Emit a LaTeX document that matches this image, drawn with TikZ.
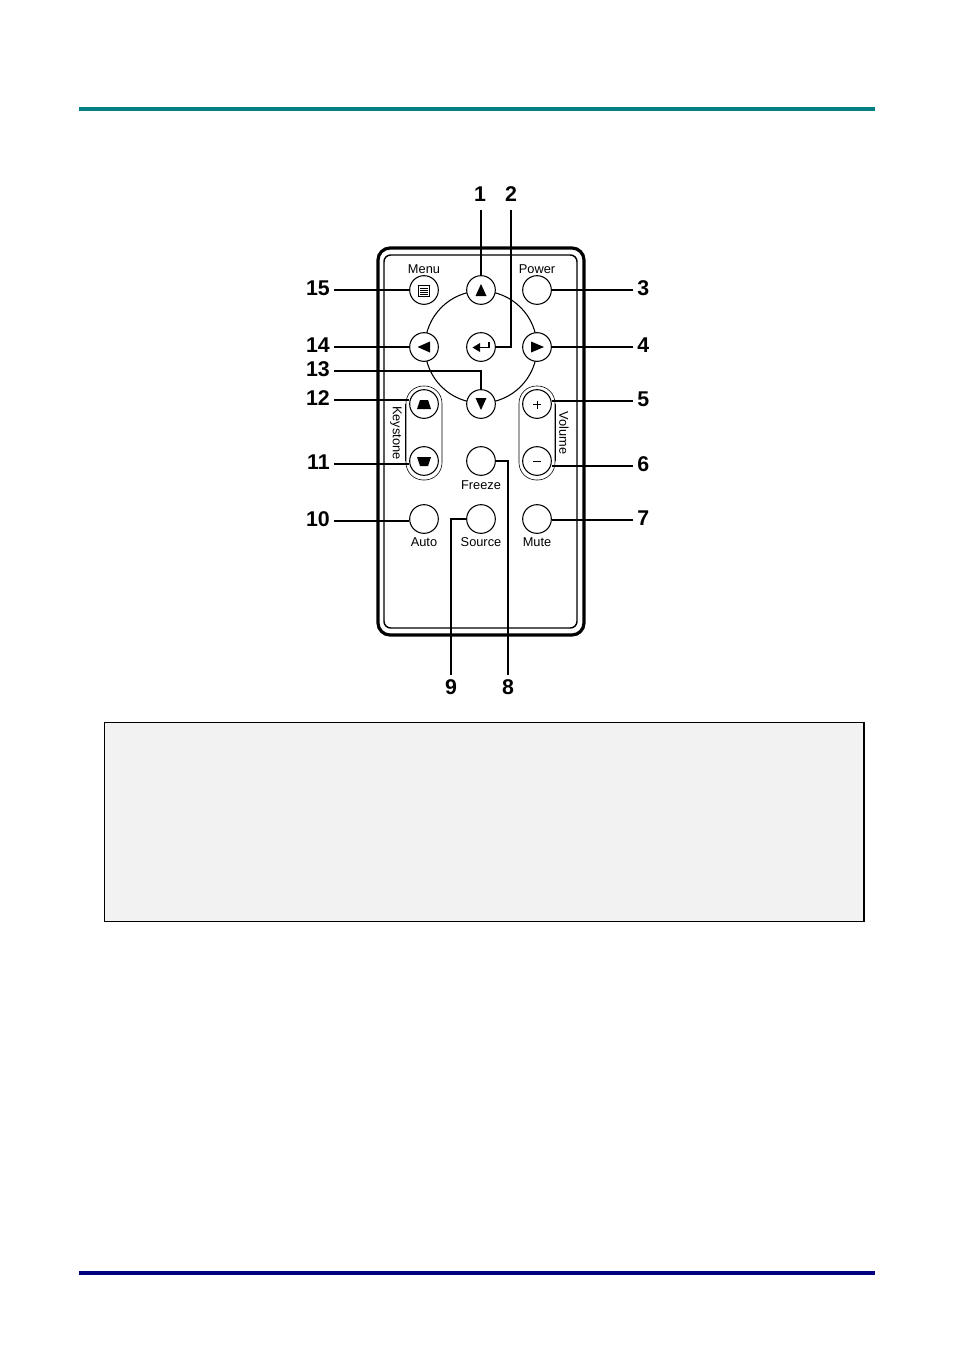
\documentclass[tikz,border=0pt]{standalone}
\usepackage{fontspec}
\setmainfont{Liberation Sans}
\usetikzlibrary{calc}
\tikzset{
    btn/.style={circle,draw,fill=white,line width=0.8pt,minimum size=21.5pt,inner sep=0pt},
    num/.style={font=\bfseries\fontsize{16}{16}\selectfont,inner sep=0pt,text height=11.5pt,text depth=3pt},
    btntext/.style={font=\fontsize{9.6}{9.6}\selectfont,inner sep=0pt},
    leader/.style={line width=1pt,shorten <=3pt},
    pill/.style={draw,line width=0.45pt,rounded corners=13pt}
}
\begin{document}
\begin{tikzpicture}[x=0.75pt,y=-0.75pt]
    \useasboundingbox (0,0) rectangle (954,1350);
    \begin{scope} % Page furniture
        \fill[white] (0,0) rectangle (954,1350);
        \fill[color={rgb,255:red,0;green,128;blue,128}] (79,107) rectangle (875,111);
        \fill[color={rgb,255:red,0;green,0;blue,128}] (79,1271) rectangle (875,1275);
        \draw[fill={rgb,255:red,242;green,242;blue,242},line width=0.6pt] (104.5,722.5) rectangle (864,921.5);
        \draw[line width=1.2pt] (864,722) -- (864,922);
    \end{scope}
    \begin{scope} % Remote body
        \draw[line width=2.4pt,rounded corners=9pt] (378,248) rectangle (584,635);
        \draw[line width=1.1pt,rounded corners=5pt] (384,255) rectangle (577,628);
        \draw[line width=0.8pt] (481,347) circle (56);
    \end{scope}
    \begin{scope} % Pills
        \draw[pill] (406,386) rectangle (442,480);
        \draw[pill] (519,386) rectangle (555,480);
        \draw[line width=0.45pt] (405,404) -- (405,461);
        \draw[line width=0.45pt] (555,404) -- (555,461);
        \node[btntext,rotate=-90] (keystone) at (396,433) {Keystone};
        \node[btntext,rotate=-90] (volume) at (564,433) {Volume};
    \end{scope}
    \begin{scope} % Buttons
        \node[btn] (menu) at (424,290) {};
        \node[btn] (up) at (481,290) {};
        \node[btn] (power) at (537,290) {};
        \node[btn] (left) at (424,347) {};
        \node[btn] (enter) at (481,347) {};
        \node[btn] (right) at (537,347) {};
        \node[btn] (down) at (481,404) {};
        \node[btn] (keyup) at (424,404) {};
        \node[btn] (plus) at (537,404) {};
        \node[btn] (keydown) at (424,461) {};
        \node[btn] (freeze) at (481,461) {};
        \node[btn] (minus) at (537,461) {};
        \node[btn] (auto) at (424,519) {};
        \node[btn] (source) at (481,519) {};
        \node[btn] (mute) at (537,519) {};
    \end{scope}
    \begin{scope} % Button glyphs
        \fill (475.5,296) -- (486.5,296) -- (481,284) -- cycle;
        \fill (475.5,398) -- (486.5,398) -- (481,410) -- cycle;
        \fill (430,341.5) -- (430,352.5) -- (417.5,347) -- cycle;
        \fill (531,341.5) -- (531,352.5) -- (544,347) -- cycle;
        \fill (417,409) -- (431,409) -- (428,400) -- (420,400) -- cycle;
        \fill (417,457) -- (431,457) -- (428,466) -- (420,466) -- cycle;
        \draw[line width=0.7pt] (418,285) rectangle (429.5,296);
        \foreach \y in {288,290,292,294}
            \draw[line width=0.6pt] (420,\y) -- (427.5,\y);
        \draw[line width=1.1pt] (478,347.5) -- (489,347.5) -- (489,342);
        \fill (480,343) -- (480,352) -- (472.5,347.5) -- cycle;
        \draw[line width=0.6pt] (533,404.5) -- (541,404.5) (537,400.5) -- (537,408.5);
        \draw[line width=0.6pt] (533,461.5) -- (541,461.5);
    \end{scope}
    \begin{scope} % Captions
        \node[btntext] (menutext) at (424,269) {Menu};
        \node[btntext] (powertext) at (537,269) {Power};
        \node[btntext] (freezetext) at (481,485) {Freeze};
        \node[btntext] (autotext) at (424,542) {Auto};
        \node[btntext] (sourcetext) at (481,542) {Source};
        \node[btntext] (mutetext) at (537,542) {Mute};
    \end{scope}
    \begin{scope} % Callout numbers
        \node[num,anchor=east] (n15) at (330,290) {15};
        \node[num,anchor=east] (n14) at (330,347) {14};
        \node[num,anchor=east] (n13) at (330,371) {13};
        \node[num,anchor=east] (n12) at (330,400) {12};
        \node[num,anchor=east] (n11) at (330,464) {11};
        \node[num,anchor=east] (n10) at (330,521) {10};
        \node[num,anchor=west] (n3) at (637,290) {3};
        \node[num,anchor=west] (n4) at (637,347) {4};
        \node[num,anchor=west] (n5) at (637,401) {5};
        \node[num,anchor=west] (n6) at (637,466) {6};
        \node[num,anchor=west] (n7) at (637,520) {7};
        \node[num] (n1) at (480,196) {1};
        \node[num] (n2) at (511,196) {2};
        \node[num] (n9) at (451,689) {9};
        \node[num] (n8) at (508,689) {8};
    \end{scope}
    \begin{scope} % Leaders
        \draw[leader] (n15.east) -- (menu.west);
        \draw[leader] (n14.east) -- (left.west);
        \draw[leader] (n13.east) -| (down.north);
        \draw[leader] (n12.east) -- (n12.east -| keyup.west);
        \draw[leader] (n11.east) -- (n11.east -| keydown.west);
        \draw[leader] (n10.east) -- (n10.east -| auto.west);
        \draw[leader] (n3.west) -- (power.east);
        \draw[leader] (n4.west) -- (right.east);
        \draw[leader] (n5.west) -- (n5.west -| plus.east);
        \draw[leader] (n6.west) -- (n6.west -| minus.east);
        \draw[leader] (n7.west) -- (n7.west -| mute.east);
        \draw[leader] (n1.south -| up.north) -- (up.north);
        \draw[leader] (n2.south) |- (enter.east);
        \draw[leader] (n9.north) |- (source.west);
        \draw[leader] (n8.north) |- (freeze.east);
    \end{scope}
\end{tikzpicture}
\end{document}
